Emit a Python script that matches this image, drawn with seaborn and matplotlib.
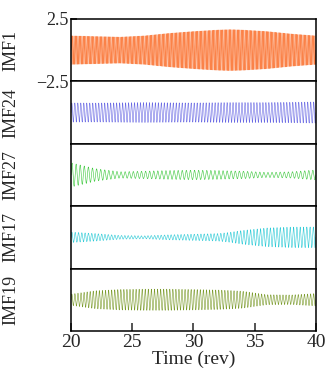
import matplotlib
matplotlib.use("Agg")
import matplotlib.pyplot as plt
import numpy as np
import pandas as pd
import seaborn as sns

# time axis (rev) and envelope readings, one per IMF
env_time = [20, 22, 24, 26, 28, 30, 32, 33, 34, 36, 38, 40]
imf_names = ["IMF1", "IMF24", "IMF27", "IMF17", "IMF19"]
imf1_env = [1.15, 1.10, 1.05, 1.15, 1.35, 1.50, 1.62, 1.65, 1.62, 1.50, 1.30, 1.15]
imf24_env = [0.77, 0.76, 0.78, 0.80, 0.78, 0.77, 0.79, 0.80, 0.80, 0.80, 0.82, 0.85]
imf27_env = [0.97, 0.50, 0.25, 0.30, 0.35, 0.38, 0.35, 0.32, 0.30, 0.20, 0.25, 0.40]
imf17_env = [0.42, 0.30, 0.15, 0.12, 0.20, 0.25, 0.30, 0.40, 0.55, 0.75, 0.82, 0.83]
imf19_env = [0.45, 0.72, 0.82, 0.85, 0.85, 0.82, 0.78, 0.74, 0.68, 0.40, 0.38, 0.50]
envelopes = [imf1_env, imf24_env, imf27_env, imf17_env, imf19_env]
# oscillations per revolution for each IMF
carrier_per_rev = [9.3, 4.1, 3.0, 3.7, 4.0]
colors = ["#FB8248", "#6A6AE4", "#3CC83C", "#2CCAD6", "#7A9A2A"]

sns.set_theme(style="ticks")
plt.rcParams["font.family"] = ["Liberation Serif", "DejaVu Serif"]

t = np.linspace(20, 40, 6001)

fig, axes = plt.subplots(5, 1, figsize=(3.26, 3.71), dpi=100, sharex=True)
fig.subplots_adjust(left=0.218, right=0.969, top=0.949, bottom=0.108, hspace=0)

for ax, name, env, f, c in zip(axes, imf_names, envelopes, carrier_per_rev, colors):
    amp = np.interp(t, env_time, env)
    sig = amp * np.sin(2 * np.pi * f * t)
    df = pd.DataFrame({"time": t, "value": sig})
    sns.lineplot(data=df, x="time", y="value", ax=ax, color=c, linewidth=0.4,
                 estimator=None)
    ax.set_ylim(-2.5, 2.5)
    ax.set_xlim(20, 40)
    ax.set_yticks([])
    ax.set_ylabel(name, fontsize=13)
    ax.yaxis.set_label_coords(-0.21, 0.5)
    ax.set_xlabel("")
    ax.tick_params(axis="x", bottom=False, labelbottom=False)
    for s in ax.spines.values():
        s.set_visible(True)
        s.set_linewidth(1.1)
        s.set_color("black")

axes[0].set_yticks([2.5, -2.5])
axes[0].set_yticklabels(["2.5", "\u22122.5"])
axes[0].tick_params(axis="y", direction="in", labelsize=13, length=4, pad=2)

axes[-1].set_xticks([20, 25, 30, 35, 40])
axes[-1].tick_params(axis="x", bottom=True, labelbottom=True, direction="in",
                     length=6, width=1.1, labelsize=14, pad=2)
axes[-1].set_xlabel("Time (rev)", fontsize=14, labelpad=0)

fig.savefig("out.png", dpi=100)
